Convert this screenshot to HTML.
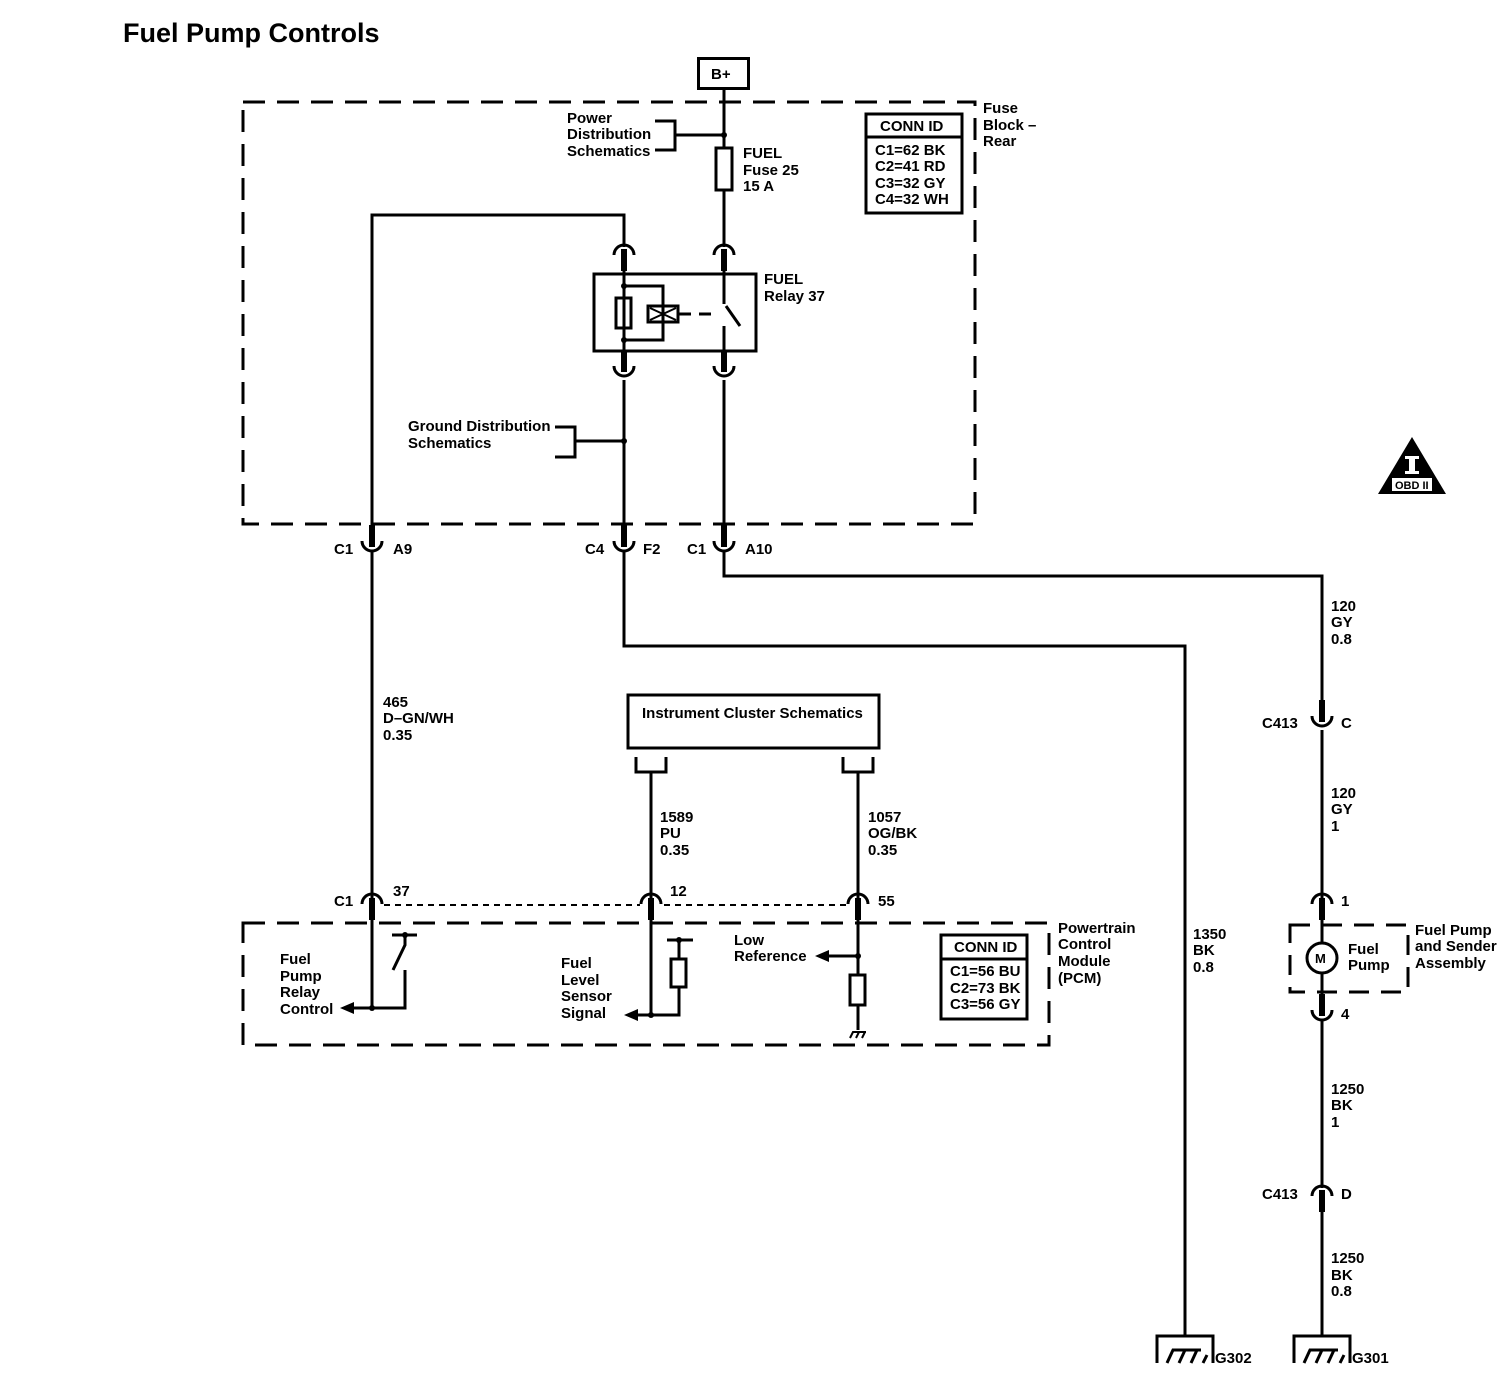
<!DOCTYPE html>
<html><head><meta charset="utf-8"><style>
html,body{margin:0;padding:0;background:#fff}
svg{display:block}
text{font-family:"Liberation Sans",sans-serif;font-size:15px;font-weight:bold;fill:#000;letter-spacing:0px}
</style></head><body>
<svg width="1512" height="1392" viewBox="0 0 1512 1392" xmlns="http://www.w3.org/2000/svg">
<defs>
<g id="cup"><path d="M-10 0 A10 10 0 0 0 10 0" fill="none" stroke="#000" stroke-width="3"/><rect x="-3" y="-16" width="6" height="22" fill="#000"/></g>
<g id="cap"><path d="M-10 0 A10 10 0 0 1 10 0" fill="none" stroke="#000" stroke-width="3"/><rect x="-3" y="-6" width="6" height="22" fill="#000"/></g>
<g id="gnd"><path d="M-28 27 V0 H28 V27" fill="none" stroke="#000" stroke-width="3"/><path d="M-18 27 L-12 14 H16 M-6 27 L0 14 M6 27 L12 14 M18 27 L22 19" fill="none" stroke="#000" stroke-width="3"/></g>
</defs>
<text x="123" y="42" style="font-size:27px;letter-spacing:0px">Fuel Pump Controls</text>

<rect x="698.5" y="58.5" width="50" height="30" fill="none" stroke="#000" stroke-width="3"/>
<text x="711" y="79">B+</text>

<g fill="none" stroke="#000" stroke-width="3">
<rect x="243" y="102" width="732" height="422" stroke-dasharray="22 12"/>
<rect x="243" y="923" width="806" height="122" stroke-dasharray="22 12"/>
<rect x="1290" y="925" width="118" height="67" stroke-dasharray="20 12"/>
<path d="M724 89 V148 M724 190 V247"/>
<rect x="716" y="148" width="16" height="42"/>
<path d="M655 121 H675 V150 H655 M675 135 H724"/>
<path d="M372 541 V215 H624 V247"/>
<rect x="594" y="274" width="162" height="77"/>
<path d="M624 262 V364 M724 262 V304 M724 326 V364"/>
<path d="M624 286 H663 V340 H624"/>
<rect x="616" y="298" width="15" height="30"/>
<rect x="648" y="306" width="30" height="16"/>
<path d="M650 308 L676 320 M650 320 L676 308" stroke-width="2"/>
<path d="M679 314 H716" stroke-dasharray="12 8"/>
<path d="M726 306 L740 326"/>
<path d="M624 380 V541 M724 380 V541"/>
<path d="M555 427 H575 V457 H555 M575 441 H624"/>
<path d="M372 551 V900"/>
<path d="M624 551 V646 H1185 V1336"/>
<path d="M724 551 V576 H1322 V716"/>
<rect x="628" y="695" width="251" height="53"/>
<path d="M636 757 V772 H666 V757 M843 757 V772 H873 V757"/>
<path d="M651 772 V900 M858 772 V900"/>
<path d="M384 905 H640 M664 905 H846" stroke-width="2" stroke-dasharray="6 5"/>
<path d="M372 906 V1008 H352 M372 1008 H405 V970"/>
<path d="M405 935 V945 L393 970 M392 935 H417"/>
<path d="M651 906 V1015 H638 M651 1015 H679 V987 M679 959 V940 M667 940 H693"/>
<rect x="671" y="959" width="15" height="28"/>
<path d="M858 906 V975 M858 1005 V1030 M858 956 H829"/>
<rect x="850" y="975" width="15" height="30"/>
<path d="M850 1038 L853 1032 H866 M856 1038 L859 1032 M862 1038 L865 1032" stroke-width="2"/>
<path d="M1322 730 V898 M1322 910 V943 M1322 973 V1006 M1322 1020 V1188 M1322 1200 V1336"/>
<circle cx="1322" cy="958" r="15"/>
<rect x="866" y="114" width="96" height="99"/>
<path d="M866 137 H962"/>
<rect x="941" y="935" width="86" height="84"/>
<path d="M941 959 H1027"/>
</g>
<g fill="#000">
<circle cx="724" cy="135" r="3"/><circle cx="624" cy="286" r="3"/><circle cx="624" cy="340" r="3"/>
<circle cx="624" cy="441" r="3"/><circle cx="372" cy="1008" r="3"/><circle cx="405" cy="935" r="3"/>
<circle cx="651" cy="1015" r="3"/><circle cx="679" cy="940" r="3"/><circle cx="858" cy="956" r="3"/>
<path d="M354 1002 L340 1008 L354 1014Z M638 1009 L624 1015 L638 1021Z M829 950 L815 956 L829 962Z"/>
<path d="M1412 437 L1446 494 H1378Z"/>
</g>
<use href="#cap" x="624" y="255"/><use href="#cap" x="724" y="255"/>
<use href="#cup" x="624" y="366"/><use href="#cup" x="724" y="366"/>
<use href="#cup" x="372" y="541"/><use href="#cup" x="624" y="541"/><use href="#cup" x="724" y="541"/>
<use href="#cap" x="372" y="904"/><use href="#cap" x="651" y="904"/><use href="#cap" x="858" y="904"/>
<use href="#cup" x="1322" y="716"/><use href="#cap" x="1322" y="904"/>
<use href="#cup" x="1322" y="1010"/><use href="#cap" x="1322" y="1196"/>
<use href="#gnd" x="1185" y="1336"/><use href="#gnd" x="1322" y="1336"/>
<rect x="1405" y="456" width="14" height="3" fill="#fff"/><rect x="1405" y="471" width="14" height="3" fill="#fff"/>
<rect x="1409" y="458" width="6" height="14" fill="#fff"/>
<rect x="1392" y="478" width="40" height="13" fill="#fff"/>
<text x="1395" y="489" style="font-size:11px">OBD II</text>

<text x="567" y="123">Power</text><text x="567" y="139">Distribution</text><text x="567" y="156">Schematics</text>
<text x="743" y="158">FUEL</text><text x="743" y="175">Fuse 25</text><text x="743" y="191">15 A</text>
<text x="880" y="131">CONN ID</text>
<text x="875" y="155">C1=62 BK</text><text x="875" y="171">C2=41 RD</text><text x="875" y="188">C3=32 GY</text><text x="875" y="204">C4=32 WH</text>
<text x="983" y="113">Fuse</text><text x="983" y="130">Block –</text><text x="983" y="146">Rear</text>
<text x="764" y="284">FUEL</text><text x="764" y="301">Relay 37</text>
<text x="408" y="431">Ground Distribution</text><text x="408" y="448">Schematics</text>
<text x="334" y="554">C1</text><text x="393" y="554">A9</text>
<text x="585" y="554">C4</text><text x="643" y="554">F2</text>
<text x="687" y="554">C1</text><text x="745" y="554">A10</text>
<text x="383" y="707">465</text><text x="383" y="723">D–GN/WH</text><text x="383" y="740">0.35</text>
<text x="642" y="718">Instrument Cluster Schematics</text>
<text x="660" y="822">1589</text><text x="660" y="838">PU</text><text x="660" y="855">0.35</text>
<text x="868" y="822">1057</text><text x="868" y="838">OG/BK</text><text x="868" y="855">0.35</text>
<text x="334" y="906">C1</text><text x="393" y="896">37</text><text x="670" y="896">12</text><text x="878" y="906">55</text>
<text x="280" y="964">Fuel</text><text x="280" y="981">Pump</text><text x="280" y="997">Relay</text><text x="280" y="1014">Control</text>
<text x="561" y="968">Fuel</text><text x="561" y="985">Level</text><text x="561" y="1001">Sensor</text><text x="561" y="1018">Signal</text>
<text x="734" y="945">Low</text><text x="734" y="961">Reference</text>
<text x="954" y="952">CONN ID</text>
<text x="950" y="976">C1=56 BU</text><text x="950" y="993">C2=73 BK</text><text x="950" y="1009">C3=56 GY</text>
<text x="1058" y="933">Powertrain</text><text x="1058" y="949">Control</text><text x="1058" y="966">Module</text><text x="1058" y="983">(PCM)</text>
<text x="1193" y="939">1350</text><text x="1193" y="955">BK</text><text x="1193" y="972">0.8</text>
<text x="1331" y="611">120</text><text x="1331" y="627">GY</text><text x="1331" y="644">0.8</text>
<text x="1262" y="728">C413</text><text x="1341" y="728">C</text>
<text x="1331" y="798">120</text><text x="1331" y="814">GY</text><text x="1331" y="831">1</text>
<text x="1341" y="906">1</text>
<text x="1315" y="963" style="font-size:13px">M</text>
<text x="1348" y="954">Fuel</text><text x="1348" y="970">Pump</text>
<text x="1415" y="935">Fuel Pump</text><text x="1415" y="951">and Sender</text><text x="1415" y="968">Assembly</text>
<text x="1341" y="1019">4</text>
<text x="1331" y="1094">1250</text><text x="1331" y="1110">BK</text><text x="1331" y="1127">1</text>
<text x="1262" y="1199">C413</text><text x="1341" y="1199">D</text>
<text x="1331" y="1263">1250</text><text x="1331" y="1280">BK</text><text x="1331" y="1296">0.8</text>
<text x="1215" y="1363">G302</text><text x="1352" y="1363">G301</text>
</svg>
</body></html>
